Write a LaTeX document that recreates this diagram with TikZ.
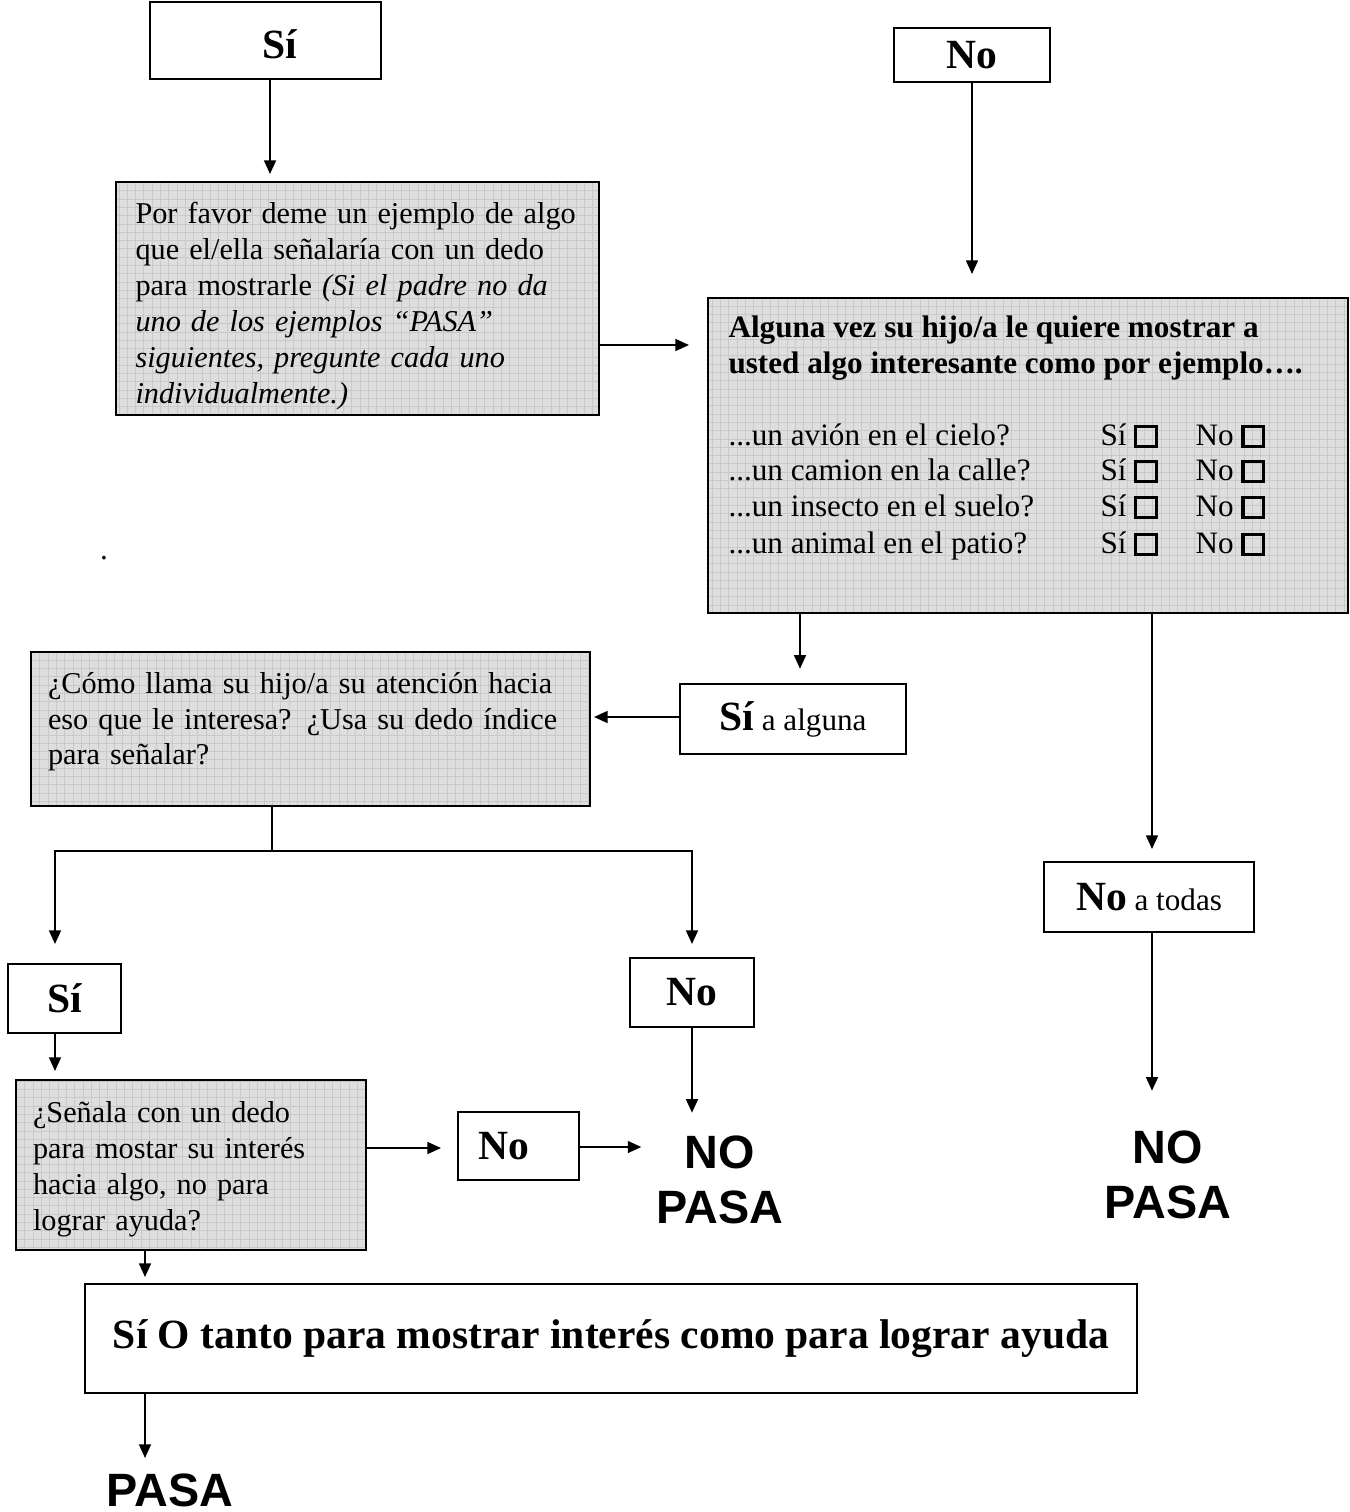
\documentclass[tikz,border=0pt]{standalone}
\usepackage{fontspec}
\setmainfont{Liberation Serif}
\setsansfont{Liberation Sans}
\usetikzlibrary{arrows.meta}
\newcommand{\pxu}{0.385pt}
\newcommand{\cbox}{{\setlength{\fboxsep}{0pt}\setlength{\fboxrule}{1.2pt}\fbox{\rule{0pt}{6.6pt}\rule{6.6pt}{0pt}}}}
\begin{document}
\begin{tikzpicture}[x=0.385pt,y=-0.385pt,
 box/.style={draw,line width=0.8pt,inner sep=0pt},
 gbox/.style={box, fill=black!13, path picture={\draw[black!21,line width=0.25pt,step=3.2pt] (path picture bounding box.south west) grid (path picture bounding box.north east);}},
 arr/.style={line width=0.6pt,-{Triangle[length=5.2pt,width=4.6pt]}},
 ln/.style={line width=0.6pt},
 body/.style={font=\fontsize{12}{13.8}\selectfont},
 tbody/.style={font=\fontsize{11.65}{13.8}\selectfont},
 big/.style={font=\fontsize{16}{18}\selectfont\bfseries},
 np/.style={font=\fontsize{18}{21}\selectfont\sffamily\bfseries, align=center, inner sep=0pt}
]
\useasboundingbox (0,0) rectangle (1350,1512);

% top boxes
\node[box, minimum width=231*\pxu, minimum height=77*\pxu,
  label={[big, inner sep=0pt, xshift=14.5*\pxu, yshift=-4*\pxu]center:Sí}] (si1) at (265.5,40.5) {};
\node[box, big, minimum width=156*\pxu, minimum height=54*\pxu] (no1) at (972,55) {No};

% box A
\node[gbox, tbody, minimum width=483*\pxu, minimum height=233*\pxu, text width=444*\pxu, align=left] (A) at (357.5,298.5)
 {\rule{0pt}{14pt}Por favor deme un ejemplo de algo\\que el/ella señalaría con un dedo\\para mostrarle \textit{(Si el padre no da}\\\textit{uno de los ejemplos “PASA”}\\\textit{siguientes, pregunte cada uno}\\\textit{individualmente.)}};

% box B
\node[gbox, minimum width=640*\pxu, minimum height=315*\pxu] (B) at (1028,455.5) {};
\node[body, font=\fontsize{12}{13.8}\selectfont\bfseries, align=left, anchor=west, inner sep=0pt] (Bt) at (728,348)
 {Alguna vez su hijo/a le quiere mostrar a\\usted algo interesante como por ejemplo….};
\foreach \t/\yy [count=\i] in {{...un avión en el cielo?}/445, {...un camion en la calle?}/480, {...un insecto en el suelo?}/516, {...un animal en el patio?}/553}{
  \node[body, anchor=base west, inner sep=0pt] (q\i) at (728,\yy) {\t};
  \node[body, anchor=base west, inner sep=0pt] (qs\i) at (1100,\yy) {Sí \cbox};
  \node[body, anchor=base west, inner sep=0pt] (qn\i) at (1195,\yy) {No \cbox};
}

\node[body] (dot) at (104,558) {.};

% Si a alguna
\node[box, line width=1pt, body, minimum width=226*\pxu, minimum height=70*\pxu] (C) at (793,719)
 {{\fontsize{16}{18}\selectfont\bfseries Sí} a alguna};

% box D
\node[gbox, tbody, minimum width=559*\pxu, minimum height=154*\pxu, text width=525*\pxu, align=left] (D) at (310.5,729)
 {¿Cómo llama su hijo/a su atención hacia\\eso que le interesa? ¿Usa su dedo índice\\para señalar?\rule[-8pt]{0pt}{8pt}};

% E, F, G
\node[box, big, minimum width=113*\pxu, minimum height=69*\pxu] (E) at (64.5,998.5) {Sí};
\node[box, big, minimum width=124*\pxu, minimum height=69*\pxu] (F) at (692,992.5) {No};
\node[box, body, minimum width=210*\pxu, minimum height=70*\pxu] (G) at (1149,897)
 {{\fontsize{16}{18}\selectfont\bfseries No} a todas};

% box H
\node[gbox, tbody, minimum width=350*\pxu, minimum height=170*\pxu, text width=316*\pxu, align=left] (H) at (191,1165)
 {\rule{0pt}{11.3pt}¿Señala con un dedo\\para mostar su interés\\hacia algo, no para\\lograr ayuda?};

\node[box, minimum width=121*\pxu, minimum height=68*\pxu,
  label={[big, inner sep=0pt, xshift=-14.5*\pxu]center:No}] (I) at (518.5,1146) {};

\node[np] (npM) at (720,1180) {NO\\PASA};
\node[np] (npR) at (1168,1175) {NO\\PASA};

\node[box, big, minimum width=1052*\pxu, minimum height=109*\pxu] (J) at (611,1338.5)
 {Sí O tanto para mostrar interés como para lograr ayuda};

\node[np] (pasa) at (170,1490) {PASA};

% connectors
\draw[arr,shorten >=7*\pxu] (si1.south -| 270,0) -- (A.north -| 270,0);
\draw[arr,shorten >=23*\pxu] (no1.south) -- (B.north -| no1.south);
\draw[arr,shorten >=18*\pxu] (A.east |- 0,345) -- (B.west |- 0,345);
\draw[arr,shorten >=14*\pxu] (B.south -| 800,0) -- (C.north -| 800,0);
\draw[arr,shorten >=3*\pxu] (C.west |- 0,717) -- (D.east |- 0,717);
\draw[ln] (D.south -| 272,0) -- (272,851) coordinate (split);
\draw[arr,shorten >=19*\pxu] (split) -| (E.north -| 55,0);
\draw[arr,shorten >=13*\pxu] (split) -| (F.north);
\draw[arr,shorten >=12*\pxu] (B.south -| 1152,0) -- (G.north -| 1152,0);
\draw[arr,shorten >=40*\pxu] (G.south -| 1152,0) -- (npR.north -| 1152,0);
\draw[arr,shorten >=8*\pxu] (E.south -| 55,0) -- (H.north -| 55,0);
\draw[arr,shorten >=16*\pxu] (H.east |- 0,1148) -- (I.west |- 0,1148);
\draw[arr,shorten >=15*\pxu] (I.east |- 0,1147) -- (npM.west |- 0,1147);
\draw[arr,shorten >=23*\pxu] (F.south) -- (npM.north -| F.south);
\draw[arr,shorten >=6*\pxu] (H.south -| 145,0) -- (J.north -| 145,0);
\draw[arr,shorten >=15*\pxu] (J.south -| 145,0) -- (pasa.north -| 145,0);
\end{tikzpicture}
\end{document}
